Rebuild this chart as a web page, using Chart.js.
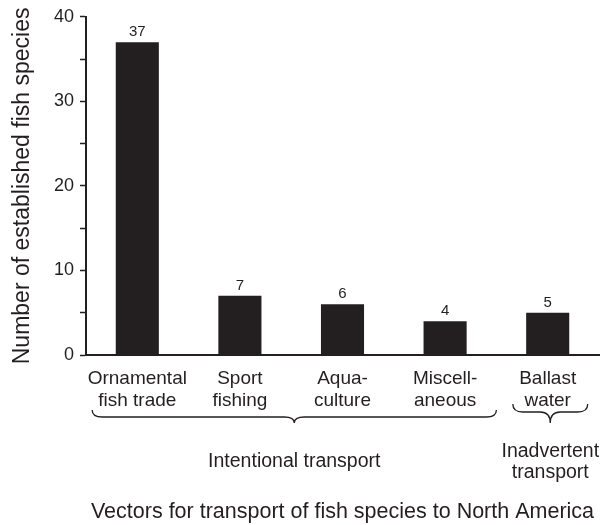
<!DOCTYPE html>
<html><head><meta charset="utf-8">
<script src="https://cdn.jsdelivr.net/npm/chart.js@4.4.0/dist/chart.umd.min.js"></script>
<style>html,body{margin:0;padding:0;background:#fff}#wrap{width:608px;height:525px;position:relative}</style>
</head><body><div id="wrap"><canvas id="c" width="608" height="525"></canvas></div>
<script>
// ---- data ----
const categories = [['Ornamental', 'fish trade'], ['Sport', 'fishing'], ['Aqua-', 'culture'], ['Miscell-', 'aneous'], ['Ballast', 'water']];
const speciesCounts = [37, 7, 6, 4, 5];
const groupNames = [['Intentional transport'], ['Inadvertent', 'transport']];
const groupFirst = [0, 4];
const groupLast = [3, 4];
const yAxisTitle = 'Number of established fish species';
const xAxisTitle = 'Vectors for transport of fish species to North America';
const yMin = 0, yMax = 40, yStep = 5, yLabelEvery = 10;

// ---- style ----
const INK = '#231f20';
const FONT = "'Liberation Sans', Arial, Helvetica, sans-serif";
const braceStyle = [
  { insetL: 0.44, insetR: 0.50, top: 55, mid: 62, tip: 68 },
  { insetL: 0.34, insetR: 0.39, top: 49, mid: 57, tip: 68 }
];
const groupLabelCenter = 107; // px below the axis
const groupLabelLine = 21;

const valueLabels = {
  id: 'valueLabels',
  afterDatasetsDraw(chart) {
    const ctx = chart.ctx;
    const meta = chart.getDatasetMeta(0);
    ctx.save();
    ctx.fillStyle = INK;
    ctx.font = '15px ' + FONT;
    ctx.textAlign = 'center';
    ctx.textBaseline = 'alphabetic';
    meta.data.forEach((bar, i) => {
      ctx.fillText(String(speciesCounts[i]), bar.x, bar.y - 6);
    });
    ctx.restore();
  }
};

const groupBraces = {
  id: 'groupBraces',
  afterDraw(chart) {
    const ctx = chart.ctx;
    const xs = chart.scales.x;
    const base = chart.chartArea.bottom;
    const step = xs.getPixelForValue(1) - xs.getPixelForValue(0);
    ctx.save();
    ctx.strokeStyle = INK;
    ctx.lineWidth = 1.3;
    ctx.fillStyle = INK;
    groupNames.forEach((name, g) => {
      const st = braceStyle[g];
      const x1 = xs.getPixelForValue(groupFirst[g]) - st.insetL * step;
      const x2 = xs.getPixelForValue(groupLast[g]) + st.insetR * step;
      const xc = (x1 + x2) / 2;
      const yT = base + st.top, yM = base + st.mid, yB = base + st.tip;
      const r = Math.min(10, (x2 - x1) / 4);
      ctx.beginPath();
      ctx.moveTo(x1, yT);
      ctx.quadraticCurveTo(x1, yM, x1 + r, yM);
      ctx.lineTo(xc - r, yM);
      ctx.quadraticCurveTo(xc, yM, xc, yB);
      ctx.quadraticCurveTo(xc, yM, xc + r, yM);
      ctx.lineTo(x2 - r, yM);
      ctx.quadraticCurveTo(x2, yM, x2, yT);
      ctx.stroke();
      ctx.font = '19.5px ' + FONT;
      ctx.textAlign = 'center';
      ctx.textBaseline = 'middle';
      const n = name.length;
      name.forEach((line, k) => {
        const y = base + groupLabelCenter + (k - (n - 1) / 2) * groupLabelLine;
        ctx.fillText(line, xc, y);
      });
    });
    ctx.restore();
  }
};

new Chart(document.getElementById('c'), {
  type: 'bar',
  data: {
    labels: categories,
    datasets: [{
      data: speciesCounts,
      backgroundColor: INK,
      borderWidth: 0,
      barPercentage: 0.42,
      categoryPercentage: 1
    }]
  },
  options: {
    responsive: false,
    animation: false,
    devicePixelRatio: 1,
    layout: { padding: { top: 16, right: 9, left: 0, bottom: 0 } },
    plugins: { legend: { display: false }, tooltip: { enabled: false } },
    scales: {
      x: {
        type: 'category',
        offset: true,
        grid: { display: false },
        border: { display: true, color: INK, width: 2 },
        ticks: { color: INK, font: { family: FONT, size: 19, lineHeight: 1.16 }, padding: 5, maxRotation: 0, autoSkip: false },
        title: { display: true, text: xAxisTitle, color: INK, font: { family: FONT, size: 21.5 }, padding: { top: 0, bottom: 0 } },
        afterFit(s) { s.height = 170; }
      },
      y: {
        min: yMin, max: yMax,
        ticks: {
          stepSize: yStep,
          color: INK,
          font: { family: FONT, size: 18 },
          padding: 6,
          callback: v => (v % yLabelEvery === 0 ? String(v) : '')
        },
        grid: { drawOnChartArea: false, tickLength: 6, tickColor: INK, tickWidth: 1.5, color: INK },
        border: { color: INK, width: 2 },
        title: { display: true, text: yAxisTitle, color: INK, font: { family: FONT, size: 23 }, padding: { top: 9, bottom: 0 } },
        afterFit(s) { s.width = 86; }
      }
    }
  },
  plugins: [valueLabels, groupBraces]
});
</script>
</body></html>
